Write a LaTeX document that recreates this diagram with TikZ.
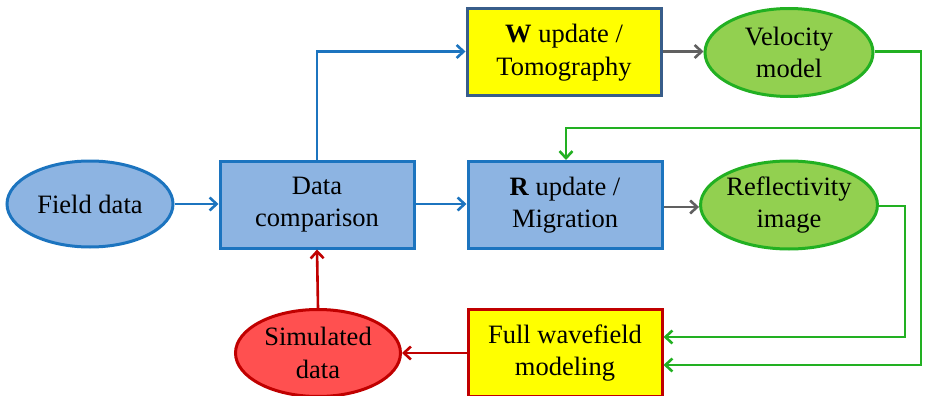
\documentclass[tikz,border=0pt]{standalone}
\usepackage{fontspec}
\setmainfont{Liberation Serif}
\usetikzlibrary{arrows.meta,shapes.geometric}
\definecolor{bfill}{HTML}{8DB4E2}
\definecolor{bline}{HTML}{1C74BF}
\definecolor{ylw}{HTML}{FFFF00}
\definecolor{ybord}{HTML}{385D8A}
\definecolor{gfill}{HTML}{92D050}
\definecolor{gline}{HTML}{22B022}
\definecolor{rfill}{HTML}{FF5050}
\definecolor{rline}{HTML}{C00000}
\definecolor{gray1}{HTML}{606060}
\begin{document}
\begin{tikzpicture}[x=1pt,y=-1pt,
  txt/.style={font=\fontsize{26.5}{32.5}\selectfont, align=center, inner sep=0pt},
  boxb/.style={txt, rectangle, draw=bline, fill=bfill, line width=3pt, minimum width=194pt, minimum height=87pt},
  boxy/.style={txt, rectangle, draw=ybord, fill=ylw, line width=3pt, minimum width=194pt, minimum height=87pt},
  boxr/.style={txt, rectangle, draw=rline, fill=ylw, line width=3pt, minimum width=194pt, minimum height=87pt},
  ellb/.style={txt, ellipse, draw=bline, fill=bfill, line width=3pt, minimum width=166pt, minimum height=86pt},
  ellg/.style={txt, ellipse, draw=gline, fill=gfill, line width=3pt, minimum width=168pt, minimum height=88pt},
  ellr/.style={txt, ellipse, draw=rline, fill=rfill, line width=3pt, minimum width=165pt, minimum height=87pt},
  arr/.style={line width=2.6pt, -{Straight Barb[length=7pt,width=13pt,line width=2.6pt]}},
  ab/.style={arr, bline},
  ag/.style={arr, gline},
  agr/.style={arr, gray1},
  ar/.style={arr, rline}
]
\useasboundingbox (0,0) rectangle (927,396);
\node[ellb] (field) at (90,204) {Field data};
\node[boxb] (comp) at (317,204.5) {Data\\comparison};
\node[boxy] (wup) at (564,52.5) {\textbf{W} update /\\Tomography};
\node[ellg] (vel) at (789,52.5) {Velocity\\model};
\node[boxb] (rup) at (565,205) {\textbf{R} update /\\Migration};
\node[ellg] (refl) at (789,205) {Reflectivity\\image};
\node[boxr] (full) at (565,353) {Full wavefield\\modeling};
\node[ellr] (sim) at (318,353) {Simulated\\data};
\coordinate (c1) at (921,51.5);
\coordinate (c2) at (921,365);
\coordinate (c3) at (921,128);
\coordinate (c4) at (566,128);
\coordinate (c5) at (905,206);
\coordinate (c6) at (905,337);
\coordinate (c7) at (317,51.5);
\draw[ab] (field) -- (comp.west |- field);
\draw[ab] (comp.north) -- (c7) -- (wup.west |- c7);
\draw[ab] (comp.east |- 0,204) -- (rup.west |- 0,204);
\draw[agr] (wup.east |- c7) -- (vel.west |- c7);
\draw[agr] (rup.east |- 0,207) -- (refl.west |- 0,207);
\draw[ag] (vel.east |- c1) -- (c1) -- (c2) -- (full.east |- c2);
\draw[ag] (c3) -- (c4) -- (rup.north -| c4);
\draw[ag] (refl.east |- c5) -- (c5) -- (c6) -- (full.east |- c6);
\draw[ar] (full.west) -- (sim.east);
\draw[ar] (sim.north) -- (comp.south);
\end{tikzpicture}
\end{document}
